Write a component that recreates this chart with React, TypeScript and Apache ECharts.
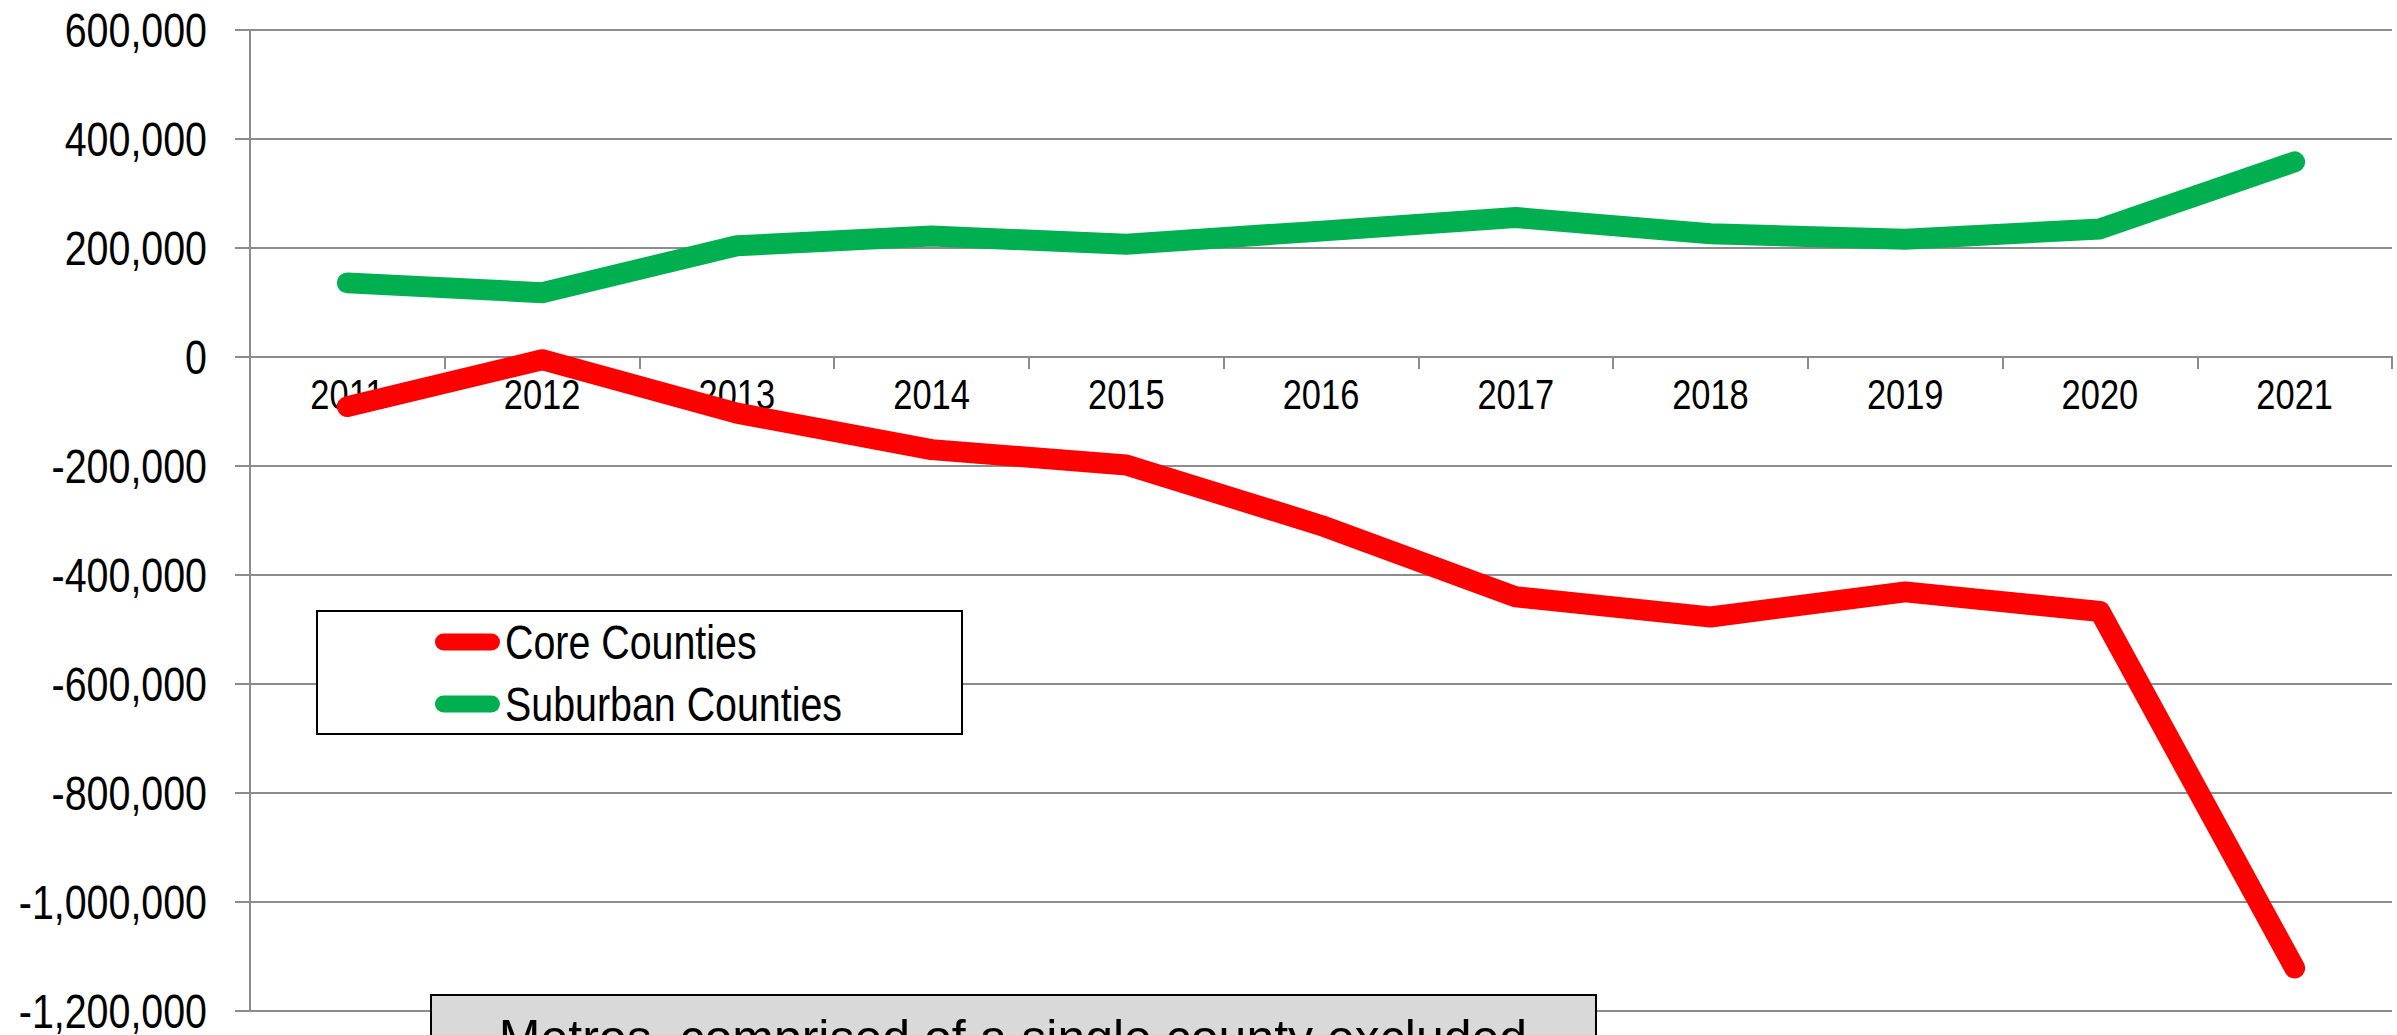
import React, { useEffect, useRef } from "react";
import * as echarts from "echarts";

const years = ["2011", "2012", "2013", "2014", "2015", "2016", "2017", "2018", "2019", "2020", "2021"];
const coreCounties = [-91000, -5000, -103000, -170000, -198000, -309000, -440000, -477000, -431000, -467000, -1121000];
const suburbanCounties = [136000, 118000, 204000, 222000, 207000, 231000, 256000, 226000, 216000, 235000, 358000];
const seriesNames = ["Core Counties", "Suburban Counties"];
const seriesColors = ["#FF0000", "#00B050"];
const yMin = -1200000;
const yMax = 600000;
const yStep = 200000;
const noteText = "Metros, comprised of a single county excluded";

const SANS = "'Liberation Sans', Arial, sans-serif";
const GRID_GRAY = "#8c8c8c";
const NARROW_FACTOR = 0.82; // emulate an Arial Narrow look with the installed Arial-metric font

const GRID_TOP = 30;
const GRID_BOTTOM = 24;
const CHART_H = 1035;

function fmt(v: number): string {
  const s = Math.abs(v).toString().replace(/\B(?=(\d{3})+(?!\d))/g, ",");
  return (v < 0 ? "-" : "") + s;
}

export default function App() {
  const ref = useRef<HTMLDivElement>(null);
  useEffect(() => {
    if (!ref.current) return;
    const chart = echarts.init(ref.current, null, { renderer: "svg" });
    const stadium = "path://M8.5,0H56.5A8.5,8.5,0,0,1,56.5,17H8.5A8.5,8.5,0,0,1,8.5,0Z";
    const plotH = CHART_H - GRID_TOP - GRID_BOTTOM;
    const zeroOffset = (plotH * (0 - yMin)) / (yMax - yMin);
    chart.setOption({
      animation: false,
      backgroundColor: "#ffffff",
      grid: { left: 250, right: 5, top: GRID_TOP, bottom: GRID_BOTTOM, containLabel: false, outerBoundsMode: "none" },
      xAxis: {
        type: "category",
        data: years,
        boundaryGap: true,
        offset: -zeroOffset,
        axisLine: { show: true, onZero: false, lineStyle: { color: GRID_GRAY, width: 2 } },
        axisTick: { show: true, length: 12, alignWithLabel: false, lineStyle: { color: GRID_GRAY, width: 2 } },
        axisLabel: { color: "#000", fontSize: 42, fontFamily: SANS, margin: 16, hideOverlap: false },
        splitLine: { show: false },
      },
      yAxis: {
        type: "value",
        min: yMin,
        max: yMax,
        interval: yStep,
        axisLine: { show: true, lineStyle: { color: GRID_GRAY, width: 2 } },
        axisTick: { show: true, length: 15, lineStyle: { color: GRID_GRAY, width: 2 } },
        axisLabel: { color: "#000", fontSize: 48, fontFamily: SANS, margin: 43, formatter: (v: number) => fmt(v) },
        splitLine: { show: true, lineStyle: { color: GRID_GRAY, width: 2 } },
      },
      legend: {
        show: true,
        orient: "vertical",
        left: 435,
        top: 618,
        padding: 0,
        itemGap: 14,
        itemWidth: 65,
        itemHeight: 17,
        icon: stadium,
        z: 6,
        textStyle: { color: "#000", fontSize: 48, lineHeight: 48, fontFamily: SANS },
        data: seriesNames,
      },
      graphic: [
        {
          type: "rect",
          z: 5,
          shape: { x: 317, y: 611, width: 645, height: 123 },
          style: { fill: "#ffffff", stroke: "#000000", lineWidth: 2 },
        },
        {
          type: "group",
          z: 5,
          children: [
            {
              type: "rect",
              z: 5,
              shape: { x: 431, y: 995, width: 1165, height: 80 },
              style: { fill: "#D9D9D9", stroke: "#000000", lineWidth: 2 },
            },
            {
              type: "text",
              z: 6,
              x: 1013,
              y: 1038,
              style: {
                text: noteText,
                fill: "#000",
                fontSize: 50,
                fontFamily: SANS,
                align: "center",
                verticalAlign: "middle",
              },
            },
          ],
        },
      ],
      series: [
        {
          name: seriesNames[0],
          type: "line",
          data: coreCounties,
          color: seriesColors[0],
          showSymbol: false,
          symbol: "none",
          z: 3,
          lineStyle: { color: seriesColors[0], width: 21, cap: "round", join: "round" },
          itemStyle: { color: seriesColors[0] },
        },
        {
          name: seriesNames[1],
          type: "line",
          data: suburbanCounties,
          color: seriesColors[1],
          showSymbol: false,
          symbol: "none",
          z: 3,
          lineStyle: { color: seriesColors[1], width: 21, cap: "round", join: "round" },
          itemStyle: { color: seriesColors[1] },
        },
      ],
    });

    // Narrow the axis and legend texts horizontally (the note keeps its normal width).
    const condense = () => {
      try {
        const root = ref.current;
        if (!root) return;
        root.querySelectorAll("svg text").forEach((node) => {
          const t = node as SVGTextElement;
          if (t.getAttribute("data-cond")) return;
          const txt = (t.textContent || "").trim();
          if (!txt || txt === noteText) return;
          const len = t.getComputedTextLength();
          if (!(len > 0)) return;
          t.setAttribute("textLength", String(len * NARROW_FACTOR));
          t.setAttribute("lengthAdjust", "spacingAndGlyphs");
          t.setAttribute("data-cond", "1");
        });
      } catch (e) {
        /* ignore */
      }
    };
    condense();
    chart.on("finished", condense);
    const raf = requestAnimationFrame(condense);
    return () => {
      cancelAnimationFrame(raf);
      chart.dispose();
    };
  }, []);
  return (
    <div
      ref={ref}
      style={{ position: "absolute", left: 0, top: 0, width: 2397, height: 1035, background: "#fff", overflow: "hidden" }}
    />
  );
}
